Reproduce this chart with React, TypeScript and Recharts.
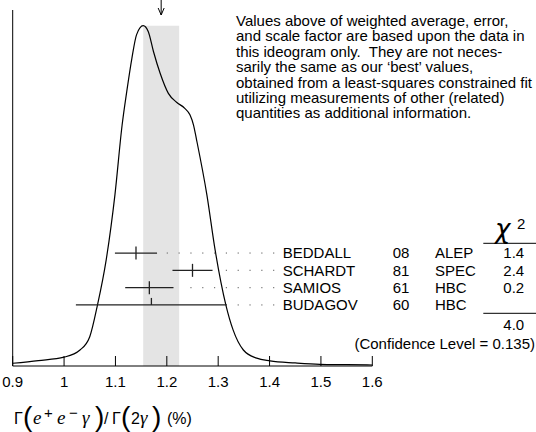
import React from 'react';
import {
  ComposedChart,
  Line,
  XAxis,
  YAxis,
  Scatter,
  ErrorBar,
  ReferenceArea,
  ReferenceDot,
} from 'recharts';

// ---------- data ----------
const curveX = [0.9, 0.95, 1.0, 1.031, 1.05, 1.065, 1.082, 1.099, 1.113, 1.122, 1.132, 1.141, 1.154, 1.164, 1.174, 1.187, 1.203, 1.219, 1.235, 1.245, 1.252, 1.258, 1.278, 1.294, 1.315, 1.329, 1.349, 1.375, 1.401, 1.45, 1.498, 1.55, 1.6];
const curveY = [0.008, 0.016, 0.026, 0.047, 0.086, 0.179, 0.312, 0.503, 0.708, 0.806, 0.904, 0.973, 1.0, 0.982, 0.924, 0.86, 0.801, 0.775, 0.757, 0.738, 0.708, 0.664, 0.503, 0.341, 0.179, 0.106, 0.047, 0.023, 0.015, 0.009, 0.005, 0.004, 0.003];

const names = ['BEDDALL', 'SCHARDT', 'SAMIOS', 'BUDAGOV'];
const years = ['08', '81', '61', '60'];
const exps = ['ALEP', 'SPEC', 'HBC', 'HBC'];
const values = [1.14, 1.25, 1.166, 1.17];
const errors = [0.041, 0.039, 0.047, 0.147];
const chi2 = ['1.4', '2.4', '0.2', ''];
const chi2Total = '4.0';
const confidence = '(Confidence Level = 0.135)';

const average = 1.189;
const averageErr = 0.035;

const xTicks = [0.9, 1.0, 1.1, 1.2, 1.3, 1.4, 1.5, 1.6];
const xTickLabels = ['0.9', '1', '1.1', '1.2', '1.3', '1.4', '1.5', '1.6'];

const noteLines = [
  'Values above of weighted average, error,',
  'and scale factor are based upon the data in',
  'this ideogram only.  They are not neces-',
  'sarily the same as our \u2018best\u2019 values,',
  'obtained from a least-squares constrained fit',
  'utilizing measurements of other (related)',
  'quantities as additional information.',
];

// ---------- layout constants ----------
const W = 536;
const H = 432;
const FONT = '"Liberation Sans", Arial, Helvetica, sans-serif';
const Y_TOP = 1.046;
const ROW_DOMAIN: [number, number] = [-14.05, 6.53];
const PLOT_TOP = 10;
const PLOT_H = 356;
const LABEL_X = 1.4256;
const DOT_START = 1.201;
const DOT_STEP = 0.023;
const DOT_COUNT = 10;

const rowToPx = (r: number) =>
  PLOT_TOP + ((r - ROW_DOMAIN[0]) / (ROW_DOMAIN[1] - ROW_DOMAIN[0])) * PLOT_H;

const curveData = curveX.map((x, i) => ({ x, d: curveY[i] }));
const rows = names.map((name, i) => ({
  x: values[i],
  row: i,
  err: errors[i],
  name,
  year: years[i],
  exp: exps[i],
  chi: chi2[i],
}));
const labelRows = rows.map((r) => ({ ...r, x: LABEL_X }));
const dots: { x: number; row: number }[] = [];
rows.forEach((r) => {
  const end = r.x + r.err;
  for (let k = 0; k < DOT_COUNT; k++) {
    const px = DOT_START + k * DOT_STEP;
    if (px > end + 0.012) dots.push({ x: px, row: r.row });
  }
});
const peak = Math.max(...curveY);

const XTick = (props: any) => {
  const { x, y, payload } = props;
  const idx = xTicks.findIndex((t) => Math.abs(t - payload.value) < 1e-9);
  const label = idx >= 0 ? xTickLabels[idx] : String(payload.value);
  return (
    <g>
      <line x1={x} y1={y} x2={x} y2={y - 10} stroke="#000" strokeWidth={1} />
      <text x={x} y={y + 21} textAnchor="middle" fontFamily={FONT} fontSize={15} fill="#000">
        {label}
      </text>
    </g>
  );
};

const CenterTick = (props: any) => {
  const { cx, cy, payload } = props;
  if (cx == null || cy == null) return null;
  const big = payload.err > 0.1;
  return (
    <line
      x1={cx}
      x2={cx}
      y1={big ? cy - 7 : cy - 6.5}
      y2={big ? cy : cy + 6.5}
      stroke="#222"
      strokeWidth={1.3}
    />
  );
};

const DotShape = (props: any) => {
  const { cx, cy } = props;
  if (cx == null || cy == null) return null;
  return <rect x={cx - 0.6} y={cy - 0.6} width={1.2} height={1.2} fill="#777" />;
};

const LabelShape = (props: any) => {
  const { cx, cy, payload } = props;
  if (cx == null || cy == null) return null;
  return (
    <text x={cx} y={cy + 5.3} fontFamily={FONT} fontSize={15} fill="#000">
      {payload.name}
    </text>
  );
};

const ArrowShape = (props: any) => {
  const { cx, cy } = props;
  if (cx == null || cy == null) return null;
  return (
    <g stroke="#000" strokeWidth={1} fill="none">
      <line x1={cx} y1={cy - 10} x2={cx} y2={cy + 5} />
      <polyline points={`${cx - 3},${cy - 2} ${cx},${cy + 5} ${cx + 3},${cy - 2}`} />
    </g>
  );
};

export default function App() {
  return (
    <div style={{ position: 'absolute', left: 0, top: 0, width: W, height: H, background: '#fff' }}>
      <ComposedChart
        width={W}
        height={H}
        margin={{ top: PLOT_TOP, right: 163.7, bottom: 36, left: 2.7 }}
      >
        <XAxis
          dataKey="x"
          type="number"
          domain={[0.9, 1.6]}
          ticks={xTicks}
          interval={0}
          height={30}
          tickSize={0}
          tickMargin={0}
          tickLine={false}
          tick={<XTick />}
          axisLine={{ stroke: '#000', strokeWidth: 1 }}
        />
        <YAxis
          yAxisId="main"
          type="number"
          domain={[0, Y_TOP]}
          width={10}
          tick={false}
          tickLine={false}
          axisLine={{ stroke: '#000', strokeWidth: 1 }}
        />
        <YAxis
          yAxisId="rows"
          dataKey="row"
          type="number"
          domain={ROW_DOMAIN}
          reversed
          hide
        />
        <ReferenceArea
          yAxisId="main"
          x1={average - averageErr}
          x2={average + averageErr}
          y1={0}
          y2={peak}
          fill="#e4e4e4"
          fillOpacity={1}
          stroke="none"
        />
        <Line
          yAxisId="main"
          data={curveData}
          dataKey="d"
          type="monotone"
          stroke="#000"
          strokeWidth={1.2}
          dot={false}
          activeDot={false}
          isAnimationActive={false}
        />
        <Scatter
          yAxisId="rows"
          data={dots}
          shape={<DotShape />}
          isAnimationActive={false}
        />
        <Scatter
          yAxisId="rows"
          data={rows}
          shape={<CenterTick />}
          isAnimationActive={false}
        >
          <ErrorBar dataKey="err" direction="x" width={0} stroke="#222" strokeWidth={1.3} isAnimationActive={false} />
        </Scatter>
        <Scatter
          yAxisId="rows"
          data={labelRows}
          shape={<LabelShape />}
          isAnimationActive={false}
        />
        <ReferenceDot
          yAxisId="main"
          x={average}
          y={Y_TOP}
          ifOverflow="visible"
          shape={<ArrowShape />}
        />
      </ComposedChart>
      <svg
        width={W}
        height={H}
        style={{ position: 'absolute', left: 0, top: 0, pointerEvents: 'none' }}
      >
        <g fontFamily={FONT} fontSize={15} fill="#000">
          {noteLines.map((t, i) => (
            <text key={i} x={236} y={26 + 15.4 * i} xmlSpace="preserve" style={{ whiteSpace: 'pre' }}>
              {t}
            </text>
          ))}
          {rows.map((r) => (
            <g key={r.row}>
              <text x={392.7} y={rowToPx(r.row) + 5.3}>{r.year}</text>
              <text x={435} y={rowToPx(r.row) + 5.3}>{r.exp}</text>
              <text x={503.3} y={rowToPx(r.row) + 5.3}>{r.chi}</text>
            </g>
          ))}
          <text x={495} y={238} fontSize={26} fontStyle="italic" fontFamily='"DejaVu Sans", sans-serif'>χ</text>
          <text x={517} y={229} fontSize={15}>2</text>
          <line x1={483.3} x2={536} y1={243.3} y2={243.3} stroke="#000" strokeWidth={1} />
          <line x1={483.3} x2={536} y1={313.3} y2={313.3} stroke="#000" strokeWidth={1} />
          <text x={503.3} y={330.3}>{chi2Total}</text>
          <text x={535} y={348.6} textAnchor="end">{confidence}</text>
        </g>
        <g fill="#000">
          <text x={14} y={424} fontFamily={FONT} fontSize={16}>Γ</text>
          <text x={23} y={426} fontFamily={FONT} fontSize={28} fontWeight={300}>(</text>
          <text x={33} y={424} fontFamily='"Liberation Serif", serif' fontStyle="italic" fontSize={19}>e</text>
          <text x={44} y={418} fontFamily={FONT} fontSize={15}>+</text>
          <text x={57} y={424} fontFamily='"Liberation Serif", serif' fontStyle="italic" fontSize={19}>e</text>
          <text x={69} y={418} fontFamily={FONT} fontSize={15}>−</text>
          <text x={82} y={424} fontFamily='"Liberation Serif", serif' fontStyle="italic" fontSize={19}>γ</text>
          <text x={95} y={426} fontFamily={FONT} fontSize={28} fontWeight={300}>)</text>
          <text x={104} y={424} fontFamily={FONT} fontSize={16}>/</text>
          <text x={112} y={424} fontFamily={FONT} fontSize={16}>Γ</text>
          <text x={121} y={426} fontFamily={FONT} fontSize={28} fontWeight={300}>(</text>
          <text x={131} y={424} fontFamily={FONT} fontSize={16}>2</text>
          <text x={140} y={424} fontFamily='"Liberation Serif", serif' fontStyle="italic" fontSize={19}>γ</text>
          <text x={152} y={426} fontFamily={FONT} fontSize={28} fontWeight={300}>)</text>
          <text x={167} y={424} fontFamily={FONT} fontSize={16}>(%)</text>
        </g>
      </svg>
    </div>
  );
}
